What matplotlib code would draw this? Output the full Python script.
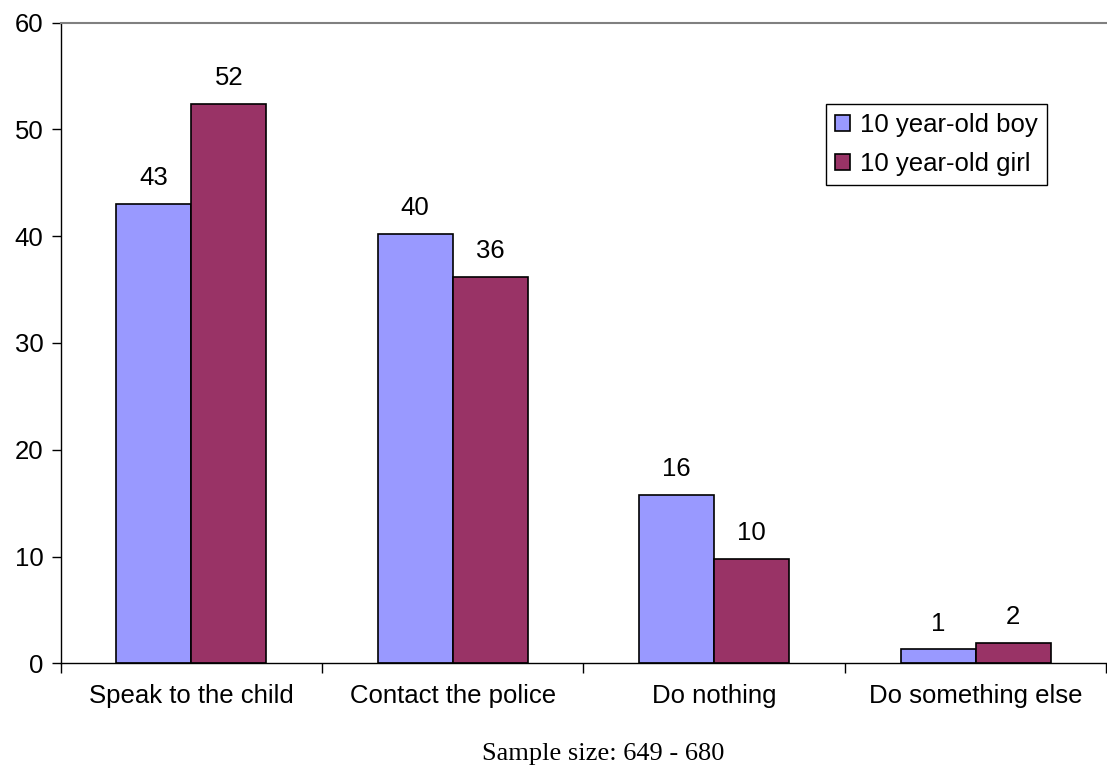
import matplotlib.pyplot as plt
import numpy as np

categories = ["Speak to the child", "Contact the police", "Do nothing", "Do something else"]
boy = [43.0, 40.2, 15.8, 1.3]
girl = [52.4, 36.2, 9.8, 1.9]
boy_labels = ["43", "40", "16", "1"]
girl_labels = ["52", "36", "10", "2"]
series_names = ["10 year-old boy", "10 year-old girl"]

plt.rcParams["font.family"] = "Liberation Sans"
fs = 18.5

fig = plt.figure(figsize=(11.07, 7.71), dpi=100)
ax = fig.add_axes([0.0548, 0.1397, 0.9445, 0.8309])

x = np.arange(len(categories))
w = 0.287
b1 = ax.bar(x - w / 2, boy, w, color="#9999FF", edgecolor="black", linewidth=1.2,
            label=series_names[0])
b2 = ax.bar(x + w / 2, girl, w, color="#993366", edgecolor="black", linewidth=1.2,
            label=series_names[1])

for bars, labels in [(b1, boy_labels), (b2, girl_labels)]:
    for rect, lab in zip(bars, labels):
        ax.annotate(lab, (rect.get_x() + rect.get_width() / 2, rect.get_height()),
                    xytext=(0, 10), textcoords="offset points",
                    ha="center", va="bottom", fontsize=fs)

ax.set_xlim(-0.5, 3.5)
ax.set_ylim(0, 60)
ax.set_yticks(range(0, 61, 10))
ax.set_xticks(np.arange(-0.5, 4, 1.0))
ax.set_xticklabels([])
ax.set_xticks(x, minor=True)
ax.set_xticklabels(categories, minor=True)
ax.tick_params(axis="x", which="minor", length=0, pad=15, labelsize=fs)
ax.tick_params(axis="x", which="major", length=7, width=1, direction="out")
ax.tick_params(axis="y", length=6.5, width=1, pad=6, labelsize=fs)

ax.spines["right"].set_visible(False)
ax.spines["top"].set_color("#808080")
ax.spines["top"].set_linewidth(1.5)
ax.spines["left"].set_linewidth(1.0)
ax.spines["bottom"].set_linewidth(1.0)

leg = ax.legend(loc="upper left", bbox_to_anchor=(0.732, 0.8736), borderaxespad=0,
                fancybox=False, edgecolor="black", framealpha=1, fontsize=fs,
                handlelength=0.58, handleheight=0.58, handletextpad=0.4,
                labelspacing=0.6, borderpad=0.35)
leg.get_frame().set_linewidth(1.0)

fig.text(0.545, 0.022, "Sample size: 649 - 680", ha="center", va="center",
         fontsize=19, family="Liberation Serif")

fig.savefig("out.png", dpi=100)
